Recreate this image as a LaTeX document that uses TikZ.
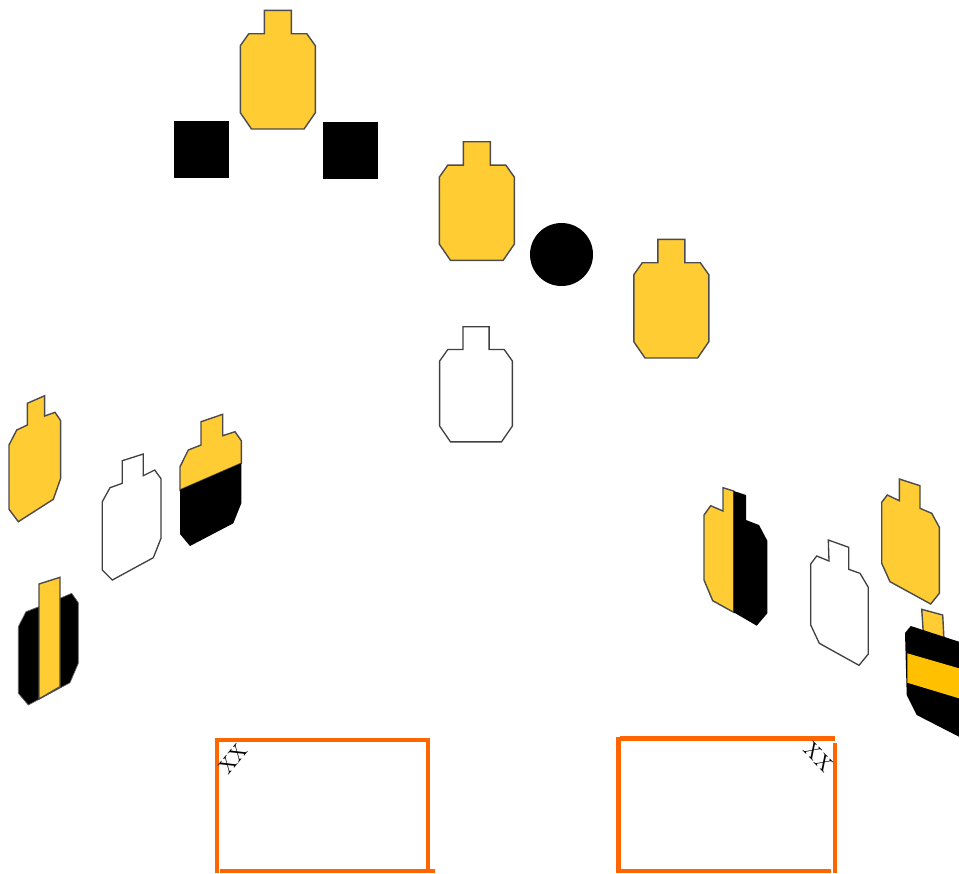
\documentclass[tikz,border=0pt]{standalone}
\usepackage{tikz}
\usetikzlibrary{calc}

\definecolor{targetyellow}{HTML}{FFCC33}
\definecolor{bandyellow}{HTML}{FFC000}
\definecolor{boxorange}{HTML}{FF6600}
\tikzset{
    target/.style={draw=black!70, line width=0.8pt, fill=targetyellow, line join=miter},
    blank/.style={draw=black!75, line width=0.75pt, fill=white},
    solid black/.style={fill=black},
    box line/.style={draw=boxorange, line width=2.3pt},
    tag/.style={inner sep=0pt, font=\normalsize, scale=1.2}
}
% outline of a target seen from the front
\newcommand{\frontoutline}{(-13.5,0) -- (13.5,0) -- (13.5,23.4) -- (29,23.4) -- (37.5,35.4) -- (37.5,102.4) -- (26.3,118.7) -- (-26.3,118.7) -- (-37.5,102.4) -- (-37.5,35.4) -- (-29,23.4) -- (-13.5,23.4) -- cycle}

\begin{document}
\begin{tikzpicture}[x=0.02cm, y=-0.02cm]
    \useasboundingbox (0,0) rectangle (959,873);

    \coordinate (T1) at (277.8,10.3);
    \coordinate (T2) at (476.8,141.7);
    \coordinate (T3) at (671.3,239.3);
    \coordinate (T4) at (476,326.7);

    % Front targets
    \begin{scope}[shift={(T1)}]
        \draw[target] \frontoutline;
    \end{scope}
    \begin{scope}[shift={(T2)}]
        \draw[target] \frontoutline;
    \end{scope}
    \begin{scope}[shift={(T3)}]
        \draw[target] \frontoutline;
    \end{scope}
    \begin{scope}[shift={(T4)}, scale=0.97]
        \draw[blank] \frontoutline;
    \end{scope}

    % Hard cover
    \fill[solid black] (174.3,121) rectangle (229.3,177.5);
    \fill[solid black] (322.5,122) rectangle (377.5,179);
    \fill[solid black] (561.5,254.5) circle (31.5);

    % Left group
    \draw[target] (27.3,403.3) -- (44.7,395.7) -- (44.7,416) -- (55,412.3) -- (60.7,420.7) -- (60.7,478.3) -- (53.3,499.3) -- (18.3,521.7) -- (9,509.3) -- (9,445) -- (16.7,430) -- (27.3,425) -- cycle;
    \draw[blank] (122.3,460.7) -- (143.3,454) -- (143.3,475.7) -- (154.7,470) -- (161,478.7) -- (161,538.3) -- (153.3,557.7) -- (112.3,580) -- (102.3,570) -- (102.3,501.7) -- (110,487.7) -- (122.3,483.3) -- cycle;

    % Left group, lower half black
    \draw[target] (201,421.7) -- (222.7,414.3) -- (222.7,435.7) -- (235,431.7) -- (241.3,440.7) -- (241.3,463.3) -- (180,490) -- (180,466.7) -- (188.3,450) -- (201,445) -- cycle;
    \fill[solid black] (241.3,463.3) -- (241.3,503.3) -- (233.3,523.3) -- (190,546) -- (180,534) -- (180,490) -- cycle;

    % Left group, middle stripe
    \fill[solid black, draw=black!60, line width=0.4pt] (60,598.3) -- (71.7,593.3) -- (78.3,602.7) -- (78.3,663.3) -- (70,682.7) -- (28.3,705) -- (18.3,693.3) -- (18.3,626.7) -- (26,611.7) -- (39,606.7) -- cycle;
    \draw[target] (39,584) -- (60,577.3) -- (60,686.7) -- (39,699) -- cycle;

    % Right group, right half black
    \draw[target] (723,487.7) -- (733.7,491) -- (733.7,612.3) -- (712.7,600.7) -- (704,580) -- (704,515) -- (710.7,505.7) -- (723,511) -- cycle;
    \fill[solid black] (733.7,491) -- (746,495) -- (746,520) -- (759,525) -- (767.3,540.7) -- (767.3,613.3) -- (756.7,625.7) -- (733.7,612.3) -- cycle;

    % Right group
    \draw[blank] (828.3,540) -- (848.7,547.3) -- (848.7,569.3) -- (860,573.3) -- (868.3,587.3) -- (868.3,654) -- (859,665.3) -- (819.3,643.3) -- (810.7,625) -- (810.7,564) -- (816.7,556) -- (829,561) -- cycle;
    \draw[target] (899.3,479) -- (920,485.7) -- (920,508.3) -- (931.7,513.3) -- (939.3,527.3) -- (939.3,593.3) -- (930.7,604) -- (890,581.7) -- (881.7,563.3) -- (881.7,502.3) -- (887.3,495) -- (899.3,500.7) -- cycle;

    % Right group, black with band
    \draw[target] (921.7,609.3) -- (942.7,615) -- (944,640) -- (923.3,633.3) -- cycle;
    \fill[solid black] (910.7,626) -- (959,641.7) -- (959,736.7) -- (916.7,715) -- (906.7,695) -- (905,633) -- cycle;
    \fill[bandyellow] (907.3,653.3) -- (959,668.3) -- (959,698.3) -- (907.3,682.7) -- cycle;

    % Left box
    \draw[box line] (217,739) -- (217,873);
    \draw[box line] (215,740) -- (430,740);
    \draw[box line] (428,738) -- (428,873);
    \draw[box line] (220,870.5) -- (435,870.5);
    \node[tag, rotate=50] (leftxx) at (233,759) {XX};

    % Right box
    \draw[box line] (618.5,737) -- (618.5,873);
    \draw[box line] (620,738.5) -- (835,738.5);
    \draw[box line] (834.7,743) -- (834.7,873);
    \draw[box line] (616,871) -- (831,871);
    \node[tag, rotate=-45] (rightxx) at (819,757) {XX};
\end{tikzpicture}
\end{document}
